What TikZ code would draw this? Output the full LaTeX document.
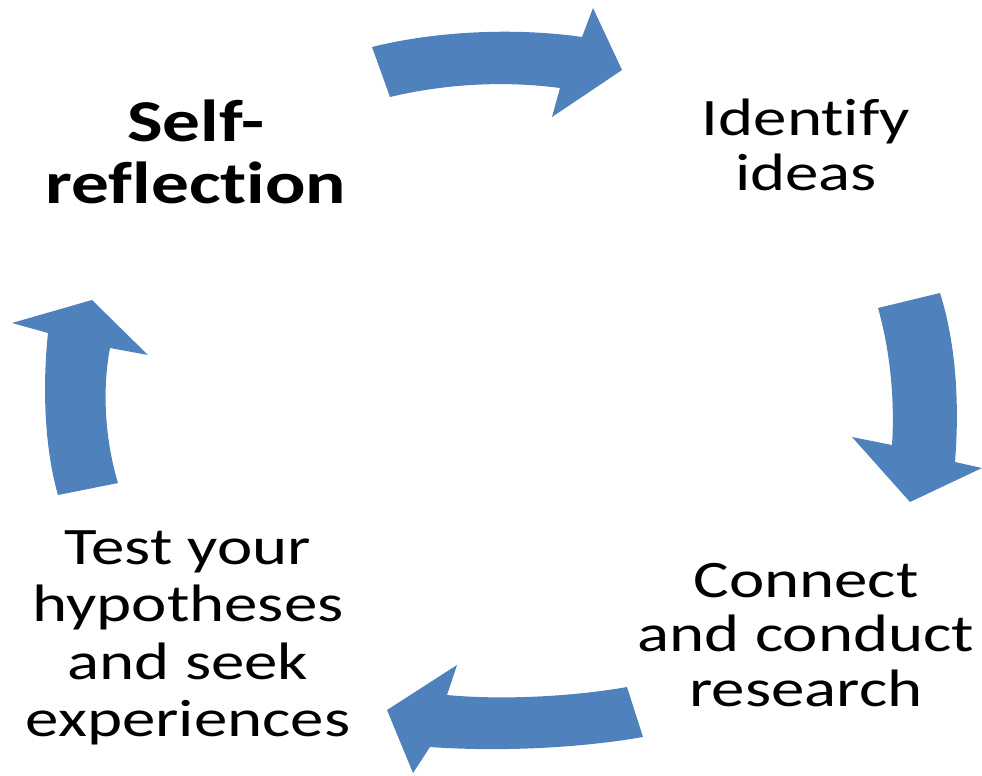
\documentclass[tikz,border=0pt]{standalone}
\usepackage{fontspec}
\setmainfont{Carlito}[FakeStretch=1.27, Ligatures=NoCommon]
\newlength{\du}
\setlength{\du}{0.75pt}
\tikzset{
  cyclearrow/.style={fill=arrowblue, draw=none},
  steplabel/.style={align=center, inner sep=0pt, font=\fontsize{39.5}{41}\selectfont},
}
\begin{document}
\begin{tikzpicture}
\pgftransformxscale{1.000000}
\pgftransformyscale{-1.000000}
\definecolor{arrowblue}{rgb}{0.309804, 0.505882, 0.741176}
\useasboundingbox (0.000000\du,0.000000\du) rectangle (982.000000\du,775.000000\du);
% top arrow
\fill[cyclearrow] (372.000000\du,47.000000\du) .. controls (440.000000\du,30.000000\du) and (520.000000\du,28.000000\du) .. (582.000000\du,37.000000\du)--(593.000000\du,8.000000\du)--(622.000000\du,70.000000\du)--(552.000000\du,117.000000\du)--(560.000000\du,88.000000\du) .. controls (500.000000\du,80.000000\du) and (440.000000\du,85.000000\du) .. (390.000000\du,97.000000\du)--cycle;
% right arrow
\fill[cyclearrow] (878.000000\du,308.000000\du) .. controls (890.000000\du,350.000000\du) and (895.000000\du,400.000000\du) .. (892.000000\du,445.000000\du)--(852.000000\du,437.000000\du)--(910.000000\du,502.000000\du)--(982.000000\du,468.000000\du)--(955.000000\du,462.000000\du) .. controls (960.000000\du,400.000000\du) and (955.000000\du,340.000000\du) .. (940.000000\du,293.000000\du)--cycle;
% bottom arrow
\fill[cyclearrow] (627.000000\du,687.000000\du) .. controls (570.000000\du,697.000000\du) and (500.000000\du,700.000000\du) .. (447.000000\du,695.000000\du)--(457.000000\du,665.000000\du)--(387.000000\du,710.000000\du)--(413.000000\du,773.000000\du)--(430.000000\du,747.000000\du) .. controls (500.000000\du,752.000000\du) and (580.000000\du,748.000000\du) .. (643.000000\du,737.000000\du)--cycle;
% left arrow
\fill[cyclearrow] (58.000000\du,495.000000\du) .. controls (45.000000\du,450.000000\du) and (42.000000\du,390.000000\du) .. (48.000000\du,333.000000\du)--(12.000000\du,323.000000\du)--(92.000000\du,300.000000\du)--(148.000000\du,355.000000\du)--(110.000000\du,348.000000\du) .. controls (102.000000\du,390.000000\du) and (105.000000\du,440.000000\du) .. (118.000000\du,483.000000\du)--cycle;
% labels
\node[steplabel, font=\bfseries\fontsize{44.5}{47}\selectfont] (selfreflection) at (196.000000\du,152.000000\du){Self-\\reflection};
\node[steplabel] (identify) at (806.000000\du,145.000000\du){Identify\\ideas};
\node[steplabel] (connect) at (806.000000\du,635.000000\du){Connect\\and conduct\\research};
\node[steplabel, font=\fontsize{39.5}{43}\selectfont] (testhyp) at (188.000000\du,638.000000\du){Test your\\hypotheses\\and seek\\experiences};
\end{tikzpicture}
\end{document}
